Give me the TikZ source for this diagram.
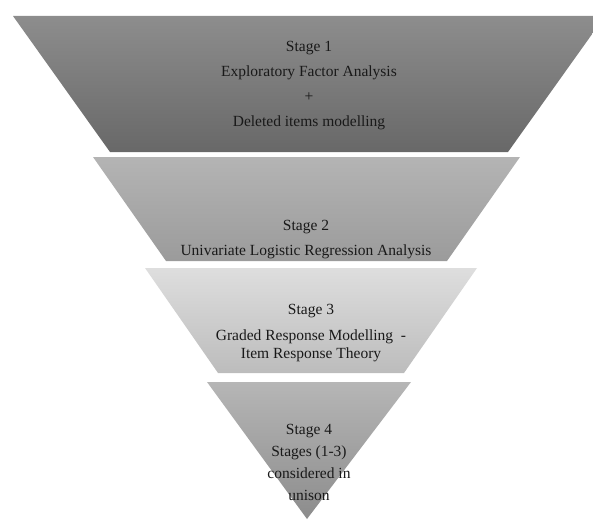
\documentclass[tikz,border=0pt]{standalone}
\usepackage{fontspec}
\setmainfont{Liberation Serif}
\usepackage{tikz}
\definecolor{layOneTop}{RGB}{141,141,141}
\definecolor{layOneBot}{RGB}{104,104,104}
\definecolor{layTwoTop}{RGB}{180,180,180}
\definecolor{layTwoBot}{RGB}{155,155,155}
\definecolor{layThreeTop}{RGB}{222,222,222}
\definecolor{layThreeBot}{RGB}{188,188,188}
\definecolor{layFourTop}{RGB}{182,182,182}
\definecolor{layFourBot}{RGB}{140,140,140}
\tikzset{%
        base/.style = {text centered, align=center, text=black!90,
                       font=\fontsize{15.5}{25}\selectfont},
  lay1/.style = {top color=layOneTop,   bottom color=layOneBot},
  lay2/.style = {top color=layTwoTop,   bottom color=layTwoBot},
  lay3/.style = {top color=layThreeTop, bottom color=layThreeBot},
  lay4/.style = {top color=layFourTop,  bottom color=layFourBot},
  tight/.style = {base, font=\fontsize{15.5}{18}\selectfont},
  mid/.style = {base, font=\fontsize{15.5}{22}\selectfont},
}

\begin{document}
\begin{tikzpicture}[x=1pt, y=-1pt]

  \clip (0,0) rectangle (593,519);
  \useasboundingbox (0,0) rectangle (593,519);

  % layers of the funnel
  \shade[lay1] (13,16)  -- (605,16)  -- (508,152) -- (110,152) -- cycle;
  \shade[lay2] (93,157) -- (520,157) -- (447,261) -- (166,261) -- cycle;
  \shade[lay3] (145,268) -- (477,268) -- (404,373) -- (218,373) -- cycle;
  \shade[lay4] (207,382) -- (411,382) -- (307,519) -- cycle;

  \node (onStageOne)   [base]  at (309,86)  {Stage 1\\Exploratory Factor Analysis\\+\\Deleted items modelling};
  \node (onStageTwo)   [base]  at (306,240) {Stage 2\\Univariate Logistic Regression Analysis};
  \node (onStageThree) [tight] at (311,333) {Stage 3\\[8pt]Graded Response Modelling\ \ -\\Item Response Theory};
  \node (onStageFour)  [mid]   at (309,462) {Stage 4\\Stages (1-3)\\considered in\\unison};

\end{tikzpicture}
\end{document}
